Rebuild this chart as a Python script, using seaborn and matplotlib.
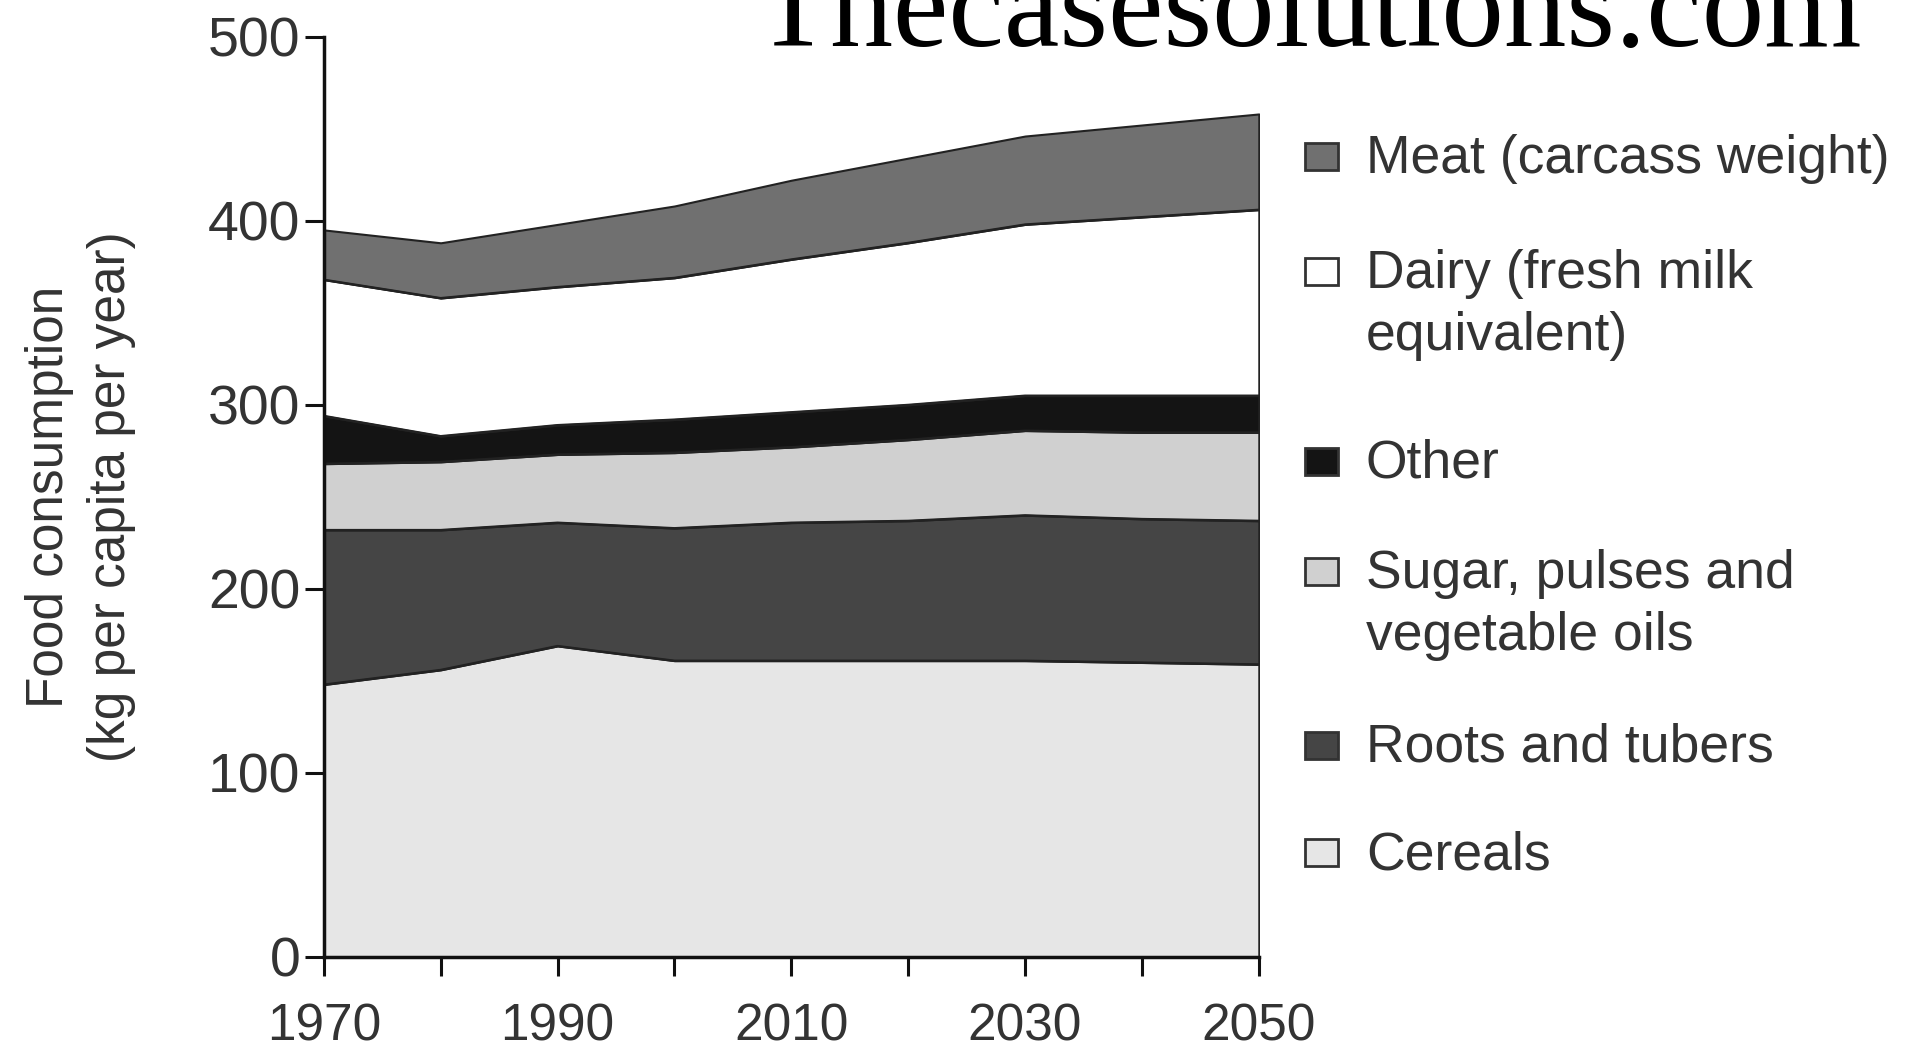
import numpy as np
import pandas as pd
import seaborn as sns
import matplotlib.pyplot as plt
from matplotlib.patches import Rectangle

years = [1970, 1980, 1990, 2000, 2010, 2020, 2030, 2040, 2050]
categories = ["Cereals", "Roots and tubers", "Sugar, pulses and\nvegetable oils",
              "Other", "Dairy (fresh milk\nequivalent)", "Meat (carcass weight)"]
cereals = [148, 156, 169, 161, 161, 161, 161, 160, 159]
roots = [84, 76, 67, 72, 75, 76, 79, 78, 78]
sugar = [36, 37, 37, 41, 41, 44, 46, 47, 48]
other = [26, 14, 16, 18, 19, 19, 19, 20, 20]
dairy = [74, 75, 75, 77, 83, 88, 93, 97, 101]
meat = [27, 30, 34, 39, 43, 46, 48, 50, 52]
colors = ["#e6e6e6", "#454545", "#d0d0d0", "#141414", "#ffffff", "#707070"]

df = pd.DataFrame(dict(zip(categories, [cereals, roots, sugar, other, dairy, meat])), index=years)

sns.set_style("ticks")
plt.rcParams["font.family"] = ["Liberation Sans", "DejaVu Sans"]

fig = plt.figure(figsize=(19.16, 10.53), dpi=100)
ax = fig.add_axes([0.169, 0.0912, 0.488, 0.874])

ax.stackplot(df.index, df.T.values, colors=colors, edgecolor="#222222", linewidth=1.5)

# boundary lines between the layers
tops = df.cumsum(axis=1)
for c in categories[:-1]:
    sns.lineplot(x=tops.index, y=tops[c].values, color="#222222", linewidth=1.5, ax=ax)
ax.set_xlabel("")
ax.set_ylabel("")

ax.set_xlim(1970, 2050)
ax.set_ylim(0, 500)
ax.set_xticks(range(1970, 2051, 10))
ax.set_xticklabels([str(y) if (y - 1970) % 20 == 0 else "" for y in range(1970, 2051, 10)])
ax.set_yticks(range(0, 501, 100))
sns.despine(ax=ax)
for s in ["left", "bottom"]:
    ax.spines[s].set_linewidth(2.5)
    ax.spines[s].set_color("#111111")
ax.tick_params(axis="both", direction="out", length=14, width=2.2, color="#111111",
               labelcolor="#333333")
ax.tick_params(axis="x", pad=19, labelsize=37)
ax.tick_params(axis="y", pad=3, labelsize=40)

fig.text(0.042, 0.528, "Food consumption\n(kg per capita per year)", rotation=90,
         ha="center", va="center", fontsize=37, color="#333333", linespacing=1.35)

# legend drawn by hand so the handles sit on the first line
leg_y = [852, 745, 571, 461, 271, 156]
W, H = 1916, 1053
for lab, col, yc in zip(categories, colors, leg_y):
    fig.patches.append(Rectangle(((1305) / W, 1 - (yc + 14) / H), 33 / W, 27 / H,
                                 transform=fig.transFigure, facecolor=col,
                                 edgecolor="#333333", linewidth=2))
    fig.text(1366 / W, 1 - (yc - 22) / H, lab, ha="left", va="top", fontsize=38.5,
             color="#333333", linespacing=1.3)

fig.text(0.394, 1 - 46 / H, "Thecasesolutions.com", family="Liberation Serif",
         fontsize=90, ha="left", va="baseline", color="black")

fig.savefig("out.png", dpi=100)
